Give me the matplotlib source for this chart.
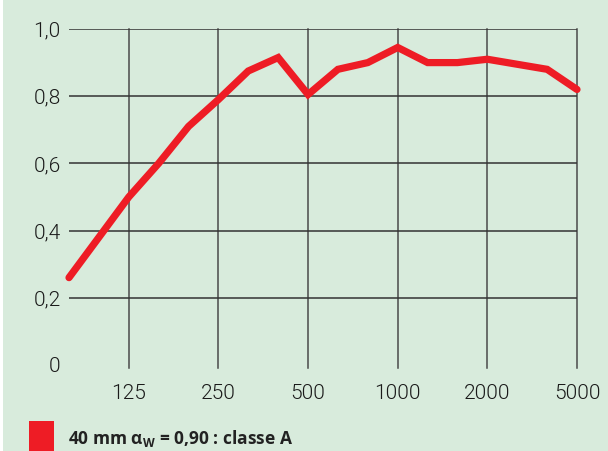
import matplotlib
matplotlib.use("Agg")
import matplotlib.pyplot as plt
from matplotlib.patches import Rectangle

# Data (third-octave band index vs absorption coefficient)
band_index = list(range(18))
alpha = [0.26, 0.38, 0.50, 0.60, 0.71, 0.79, 0.875, 0.915, 0.805, 0.88,
         0.90, 0.945, 0.90, 0.90, 0.91, 0.895, 0.88, 0.82]
xtick_pos = [2, 5, 8, 11, 14, 17]
xtick_labels = ["125", "250", "500", "1000", "2000", "5000"]
ytick_vals = [0, 0.2, 0.4, 0.6, 0.8, 1.0]
ytick_labels = ["0", "0,2", "0,4", "0,6", "0,8", "1,0"]
legend_label = "40 mm α$_\\mathrm{W}$ = 0,90 : classe A"

BG = "#d8ebdc"
RED = "#ee1c25"
GRID = "#4a4a4a"

plt.rcParams['mathtext.fontset'] = 'custom'
plt.rcParams['mathtext.rm'] = 'Open Sans:bold'
plt.rcParams['mathtext.it'] = 'Open Sans:bold'
plt.rcParams['mathtext.bf'] = 'Open Sans:bold'

W, H = 608, 451
fig = plt.figure(figsize=(W / 100, H / 100), dpi=100, facecolor=BG)
left, right, top, bottom = 69, 577, 29, 365
ax = fig.add_axes([left / W, 1 - bottom / H, (right - left) / W, (bottom - top) / H])
ax.set_facecolor(BG)

ax.set_xlim(0, 17)
ax.set_ylim(0, 1.0)

for x in xtick_pos:
    ax.plot([x, x], [-0.01, 1.0], color=GRID, lw=1.1, zorder=1, clip_on=False)
for y in ytick_vals[1:]:
    ax.plot([0, 17], [y, y], color="#333333", lw=1.1, zorder=1)

ax.plot(band_index, alpha, color=RED, lw=5.2, solid_capstyle='round',
        solid_joinstyle='miter', zorder=3, clip_on=False)

for s in ax.spines.values():
    s.set_visible(False)

tick_font = dict(family=['Roboto', 'DejaVu Sans'], fontweight=300, fontsize=15,
                 color='#1a1a1a')
ax.set_xticks(xtick_pos)
ax.set_xticklabels(xtick_labels, **tick_font)
ax.set_yticks(ytick_vals)
ax.set_yticklabels(ytick_labels, **tick_font)
ax.tick_params(axis='y', length=0, pad=6)
ax.tick_params(axis='x', length=0, pad=14)

# Legend
fig.patches.append(Rectangle((29 / W, 0), 25 / W, 30 / H, transform=fig.transFigure,
                             facecolor=RED, edgecolor='none'))
fig.text(68 / W, 1 - 444 / H, legend_label, family=['Open Sans', 'DejaVu Sans'],
         fontweight='bold', fontsize=12.5, color='#222222', ha='left', va='baseline')

# thin white strip at left edge
fig.patches.append(Rectangle((0, 0), 3 / W, 1, transform=fig.transFigure,
                             facecolor='white', edgecolor='none'))

fig.savefig("out.png", dpi=100, facecolor=BG)
